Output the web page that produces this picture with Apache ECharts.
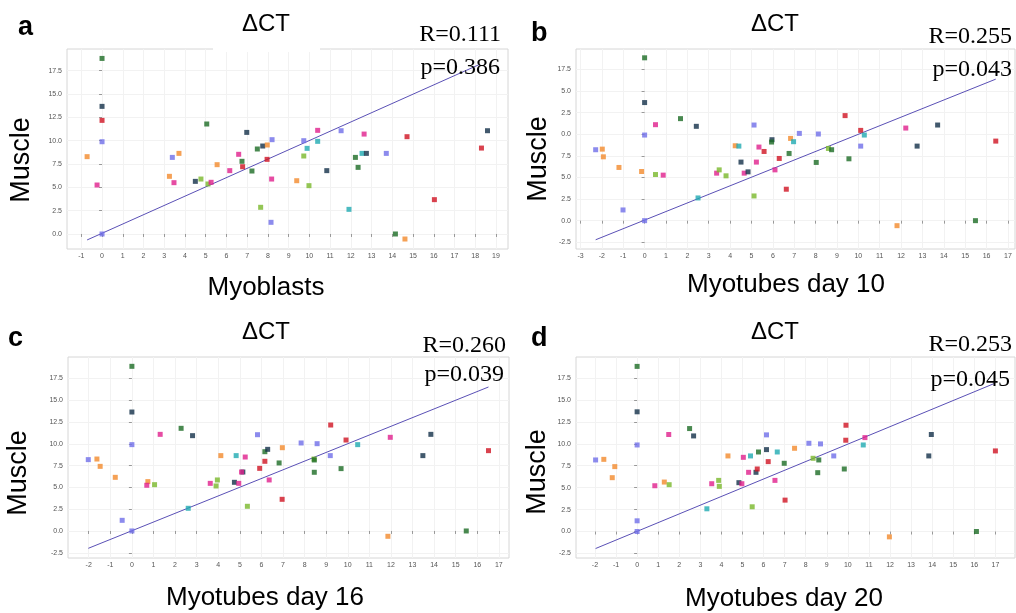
<!DOCTYPE html>
<html><head><meta charset="utf-8">
<script src="https://cdn.jsdelivr.net/npm/echarts@6/dist/echarts.min.js"></script>
<style>html,body{margin:0;padding:0;background:#fff}#c{width:1016px;height:613px}</style>
</head><body><div id="c"></div>
<script>
// ---------- data ----------
const colorCodes = {P:'#6f6ee8', O:'#f28a2c', M:'#e01f8c', G:'#1b6b24', N:'#132f48', R:'#cf1322', Y:'#79b82b', C:'#1faab2'};

const myoblastsX = [0,0,0,0,0,-0.72,-0.24,3.39,3.71,3.25,3.47,4.5,4.77,5.11,5.26,5.05,5.55,6.16,6.59,6.75,6.78,6.98,7.23,7.49,7.75,7.97,7.96,7.65,8.2,8.18,8.15,9.39,9.73,9.89,9.73,9.98,10.4,10.4,10.84,11.53,11.91,12.22,12.35,12.54,12.75,12.64,13.71,14.15,14.61,14.71,16.03,18.3,18.59];
const myoblastsMuscle = [18.82,13.68,12.18,9.89,0,8.29,5.25,8.21,8.64,6.18,5.5,5.64,5.89,5.36,5.54,11.79,7.43,6.79,8.54,7.79,7.21,10.89,6.75,9.11,9.43,9.54,8.0,2.86,10.11,5.89,1.25,5.71,10.0,9.18,8.36,5.18,11.11,9.93,6.79,11.07,2.64,8.21,7.14,8.64,8.64,10.71,8.64,0,-0.54,10.43,3.68,9.21,11.07];
const myoblastsColor = ['G','N','R','P','P','O','M','P','O','O','M','N','Y','Y','M','G','O','M','M','G','R','N','G','G','N','O','R','Y','P','M','P','O','P','C','Y','Y','M','C','N','P','C','G','G','C','N','M','P','G','O','R','R','R','N'];

const day10X = [0,0,0,0,-2.29,-1.98,-1.93,-1.2,-0.14,-1.01,0.51,0.51,0.87,1.68,2.42,2.5,3.37,3.49,3.81,4.24,4.41,4.51,4.66,4.84,5.12,5.12,5.23,5.35,5.59,5.96,5.94,6.1,6.3,6.63,6.76,6.83,6.97,7.24,8.03,8.13,8.6,8.75,9.38,9.56,10.11,10.11,10.28,12.22,11.81,12.75,13.71,15.48,16.43];
const day10Muscle = [18.85,13.67,9.91,0,8.21,8.28,7.39,6.16,5.69,1.24,5.34,11.11,5.27,11.81,10.92,2.63,5.5,5.88,5.19,8.67,8.63,6.78,5.5,5.65,11.07,2.86,6.78,8.52,8.01,9.37,9.1,5.88,7.2,3.64,7.78,9.52,9.14,10.1,6.74,10.03,8.36,8.21,12.16,7.16,10.45,8.63,9.91,10.72,-0.58,8.63,11.07,0,9.21];
const day10Color = ['G','N','P','P','P','O','O','O','O','P','Y','M','M','G','N','C','M','Y','Y','O','C','N','M','N','P','Y','M','M','R','N','G','M','R','R','G','O','C','P','G','P','Y','G','R','G','R','P','C','M','O','N','N','G','R'];

const day16X = [0,0,0,0,-2.02,-1.62,-1.47,-0.77,-0.45,0.74,0.69,1.05,1.31,2.28,2.81,2.61,3.63,3.96,3.9,4.12,4.83,4.75,4.95,5.14,5.08,5.25,5.35,5.82,5.92,6.16,6.16,6.29,6.36,6.96,6.82,6.97,7.84,8.58,8.44,8.45,8.45,9.19,9.21,9.69,9.92,10.46,11.97,11.86,13.48,13.85,15.49,16.52];
const day16Muscle = [18.88,13.64,9.9,0,8.18,8.25,7.41,6.15,1.22,5.66,5.24,5.31,11.08,11.77,10.93,2.6,5.46,5.85,5.16,8.64,8.64,5.58,5.46,6.76,6.76,8.48,2.83,11.04,7.18,7.99,9.09,9.36,5.85,3.63,7.8,9.55,10.09,10.01,8.25,8.14,6.73,8.64,12.15,7.15,10.43,9.9,10.74,-0.61,8.64,11.08,0,9.21];
const day16Color = ['G','N','P','P','P','O','O','O','P','O','M','Y','M','G','N','C','M','Y','Y','O','C','N','M','N','M','M','Y','P','R','R','G','N','M','R','G','O','P','P','Y','G','G','P','R','G','R','C','M','O','N','N','G','R'];

const day20X = [0,0,0,0,0,-1.97,-1.58,-1.06,-1.18,0.84,1.29,1.52,1.5,2.49,2.68,3.31,3.54,3.87,3.9,4.31,4.83,4.97,5.04,5.38,5.29,5.64,5.7,5.46,5.76,6.14,6.14,6.22,6.54,6.65,6.98,7.02,7.47,8.15,8.7,8.35,8.62,8.57,9.33,9.91,9.9,9.83,10.73,10.81,11.97,13.84,13.96,16.1,17.0];
const day20Muscle = [18.83,13.65,9.87,1.22,0,8.16,8.23,7.4,6.14,5.22,5.64,5.34,11.06,11.74,10.9,2.59,5.45,5.83,5.15,8.62,5.57,5.45,8.46,8.62,6.75,6.75,7.13,2.82,9.07,11.02,9.34,7.97,5.83,9.07,7.78,3.58,9.49,10.06,9.99,8.35,8.16,6.71,8.62,12.12,10.41,7.13,9.87,10.71,-0.61,8.62,11.06,0,9.19];
const day20Color = ['G','N','P','P','P','P','O','O','O','M','O','Y','M','G','N','C','M','Y','Y','O','N','M','M','C','M','N','R','Y','G','P','N','R','M','C','G','R','O','P','P','Y','G','G','P','R','R','G','C','M','O','N','N','G','R'];

// regression line end points
const fitAX = [-0.72, 18.23], fitAY = [-0.64, 18.2];
const fitBX = [-2.29, 16.43], fitBY = [-2.21, 16.38];
const fitCX = [-2.02, 16.52], fitCY = [-1.99, 16.51];
const fitDX = [-1.97, 16.92], fitDY = [-1.94, 16.85];

// tick labels
const xTicksA = [-1,0,1,2,3,4,5,6,7,8,9,10,11,12,13,14,15,16,17,18,19];
const xTicksB = [-3,-2,-1,0,1,2,3,4,5,6,7,8,9,10,11,12,13,14,15,16,17];
const xTicksCD = [-2,-1,0,1,2,3,4,5,6,7,8,9,10,11,12,13,14,15,16,17];
const yTicksA = [0,2.5,5,7.5,10,12.5,15,17.5];
const yTicksBCD = [-2.5,0,2.5,5,7.5,10,12.5,15,17.5];
const yLabelsA = ['0.0','2.5','5.0','7.5','10.0','12.5','15.0','17.5'];
const yLabelsB = ['-2.5','0.0','2.5','5.0','7.5','0.0','2.5','5.0','17.5'];
const yLabelsCD = ['-2.5','0.0','2.5','5.0','7.5','10.0','12.5','15.0','17.5'];

const panelLetters = ['a','b','c','d'];
const xNames = ['Myoblasts','Myotubes day 10','Myotubes day 16','Myotubes day 20'];
const rTexts = ['R=0.111','R=0.255','R=0.260','R=0.253'];
const pTexts = ['p=0.386','p=0.043','p=0.039','p=0.045'];

// ---------- layout ----------
const panels = [
  {x:myoblastsX, y:myoblastsMuscle, c:myoblastsColor, fx:fitAX, fy:fitAY, xt:xTicksA, yt:yTicksA, yl:yLabelsA,
   grid:{left:67, top:49, width:441, height:200}, xr:[-1.69,19.58], yr:[-1.61,19.83]},
  {x:day10X, y:day10Muscle, c:day10Color, fx:fitBX, fy:fitBY, xt:xTicksB, yt:yTicksBCD, yl:yLabelsB,
   grid:{left:576, top:49, width:439, height:200}, xr:[-3.21,17.33], yr:[-3.28,19.87]},
  {x:day16X, y:day16Muscle, c:day16Color, fx:fitCX, fy:fitCY, xt:xTicksCD, yt:yTicksBCD, yl:yLabelsCD,
   grid:{left:68, top:357, width:441, height:201}, xr:[-2.96,17.47], yr:[-3.1,19.95]},
  {x:day20X, y:day20Muscle, c:day20Color, fx:fitDX, fy:fitDY, xt:xTicksCD, yt:yTicksBCD, yl:yLabelsCD,
   grid:{left:576, top:357, width:439, height:201}, xr:[-2.9,17.93], yr:[-3.02,19.9]}
];

const grids = [], xAxes = [], yAxes = [], series = [];
panels.forEach((p, i) => {
  grids.push(Object.assign({show:true, borderColor:'#d6d6d6', borderWidth:1, backgroundColor:'#fff'}, p.grid));
  xAxes.push({type:'value', gridIndex:i, min:p.xr[0], max:p.xr[1],
    axisLine:{show:false},
    axisTick:{show:true, length:3, customValues:p.xt, lineStyle:{color:'#999'}},
    axisLabel:{customValues:p.xt, fontSize:7, color:'#555', margin:4, fontFamily:'Liberation Sans'},
    splitLine:{show:true, lineStyle:{color:'#f2f2f2', width:1}}});
  yAxes.push({type:'value', gridIndex:i, min:p.yr[0], max:p.yr[1],
    axisLine:{show:false},
    axisTick:{show:true, length:3, customValues:p.yt, lineStyle:{color:'#999'}},
    axisLabel:{customValues:p.yt, fontSize:7, color:'#555', margin:5, fontFamily:'Liberation Sans',
      formatter:(v) => { const k = p.yt.findIndex(t => Math.abs(t - v) < 1e-6); return k >= 0 ? p.yl[k] : ''; }},
    splitLine:{show:true, lineStyle:{color:'#f2f2f2', width:1}}});
  series.push({type:'line', xAxisIndex:i, yAxisIndex:i, symbol:'none', silent:true, z:2,
    lineStyle:{color:'#5a50b6', width:1}, data:p.fx.map((v, k) => [v, p.fy[k]])});
  series.push({type:'scatter', xAxisIndex:i, yAxisIndex:i, symbol:'rect', symbolSize:5, z:3,
    data:p.x.map((v, k) => ({value:[v, p.y[k]], itemStyle:{color:colorCodes[p.c[k]]}}))});
});

// ---------- text ----------
const sans = 'Liberation Sans';
const serif = 'Liberation Serif';
const letterPos = [[18,14],[531,20],[8,325],[531,325]];
const titlePos = [[266,24],[775,24],[266,332],[775,332]];
const musclePos = [[22,160],[539,159],[19,473],[538,472]];
const xNamePos = [[266,288],[786,285],[265,598],[784,599]];
const rPos = [[501,35],[1012,37],[506,346],[1012,345]];
const pPos = [[500,68],[1012,70],[504,375],[1010,380]];

const graphics = [];
panelLetters.forEach((L, i) => {
  graphics.push({type:'text', x:letterPos[i][0], y:letterPos[i][1], z:10,
    style:{text:L, font:'bold 27px ' + sans, fill:'#000', align:'left', verticalAlign:'top'}});
  graphics.push({type:'text', x:titlePos[i][0], y:titlePos[i][1], z:10,
    style:{text:'ΔCT', font:'24px ' + sans, fill:'#000', align:'center', verticalAlign:'middle'}});
  graphics.push({type:'text', x:musclePos[i][0], y:musclePos[i][1], rotation:Math.PI/2, z:10,
    style:{text:'Muscle', font:'27px ' + sans, fill:'#000', align:'center', verticalAlign:'middle'}});
  graphics.push({type:'text', x:xNamePos[i][0], y:xNamePos[i][1], z:10,
    style:{text:xNames[i], font:'26px ' + sans, fill:'#000', align:'center', verticalAlign:'middle'}});
  graphics.push({type:'text', x:rPos[i][0], y:rPos[i][1], z:10,
    style:{text:rTexts[i], font:'24px ' + serif, fill:'#000', align:'right', verticalAlign:'middle'}});
  graphics.push({type:'text', x:pPos[i][0], y:pPos[i][1], z:10,
    style:{text:pTexts[i], font:'24px ' + serif, fill:'#000', align:'right', verticalAlign:'middle'}});
});
// white patch behind the panel-a title breaking the frame top
graphics.unshift({type:'rect', shape:{x:213, y:44, width:107, height:8}, z:5, style:{fill:'#fff'}});

const chart = echarts.init(document.getElementById('c'), null, {renderer:'canvas'});
chart.setOption({
  animation:false,
  backgroundColor:'#fff',
  grid:grids, xAxis:xAxes, yAxis:yAxes, series:series, graphic:graphics
});
</script>
</body></html>
